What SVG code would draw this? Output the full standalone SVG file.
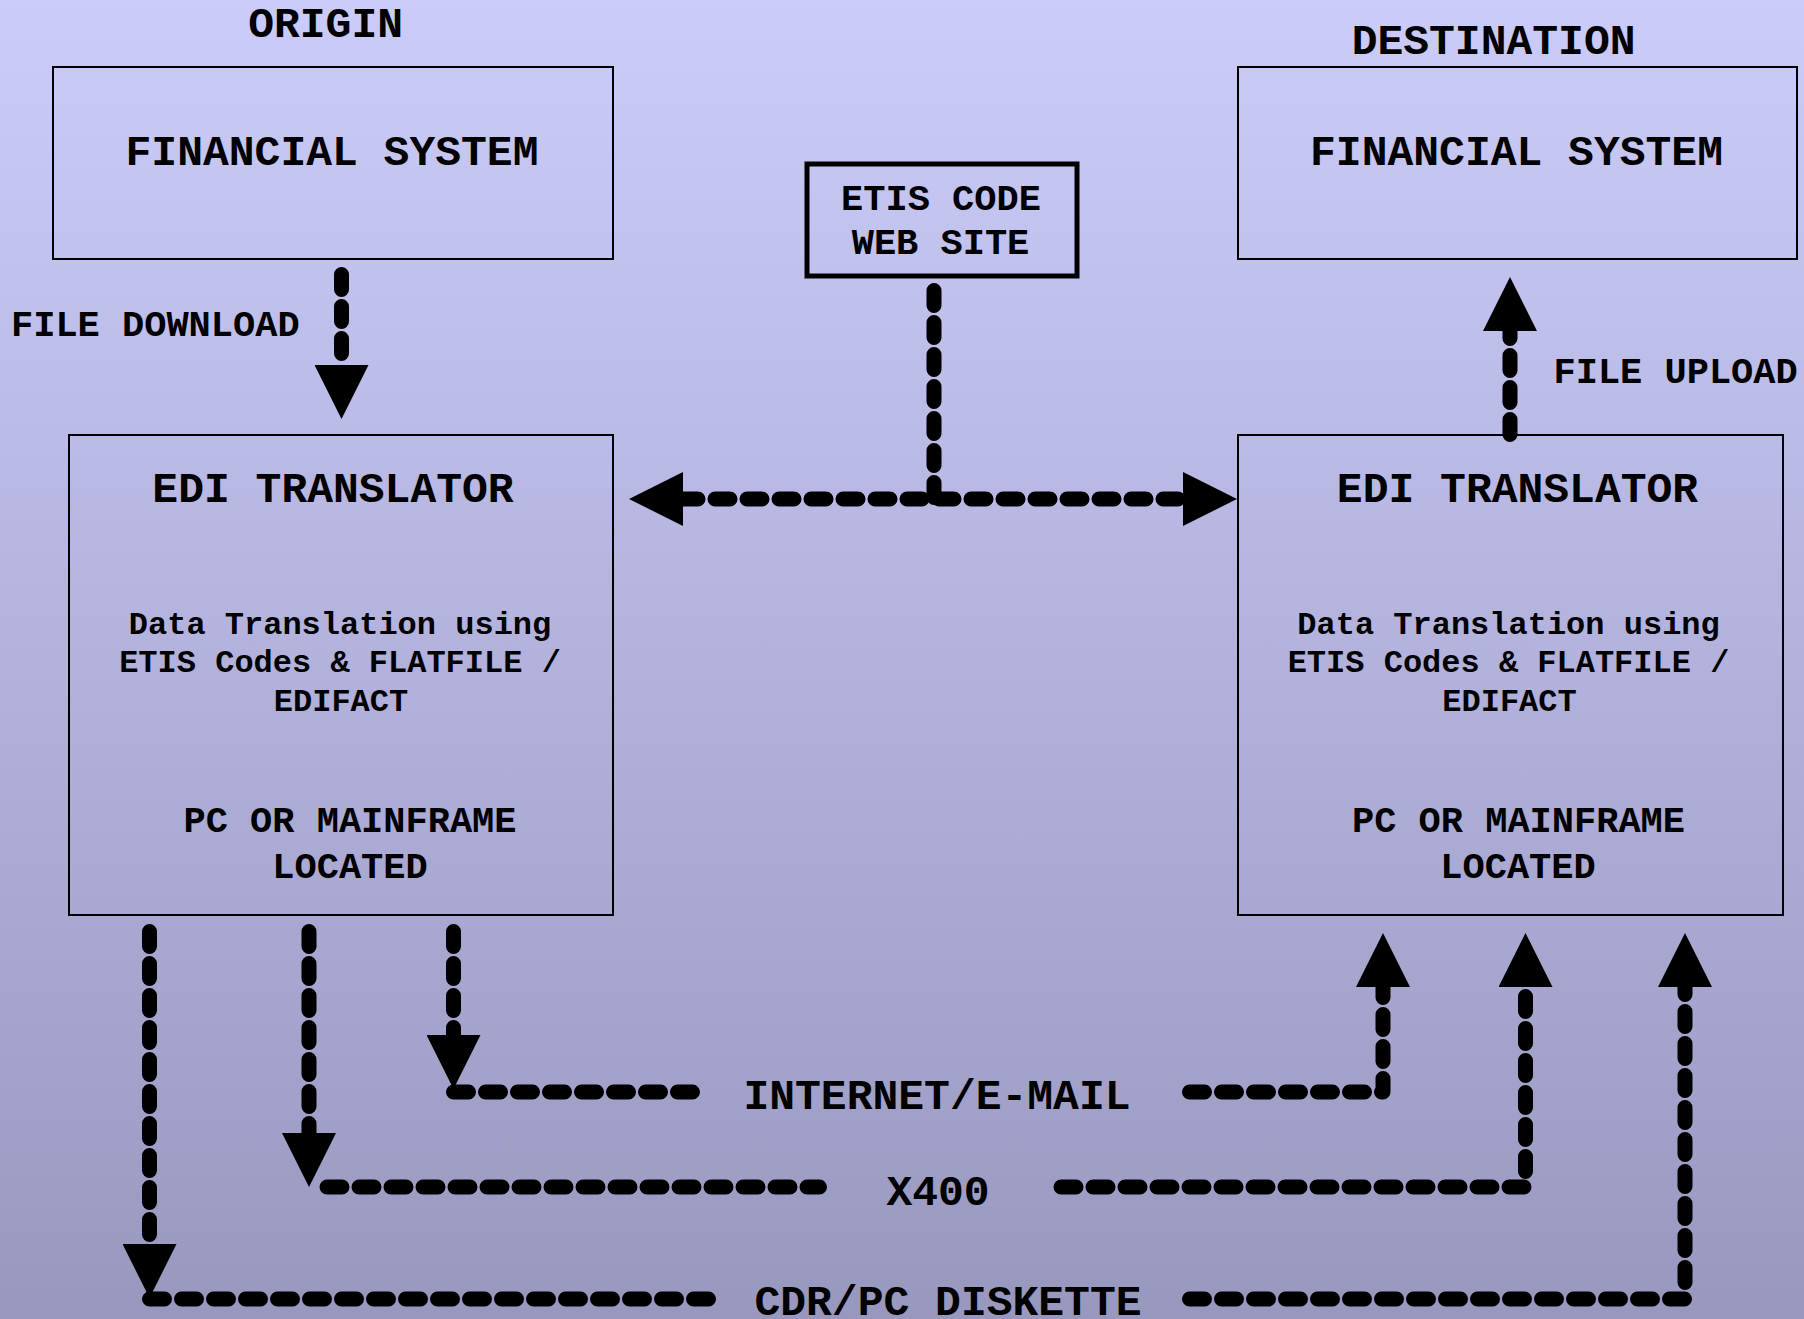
<svg xmlns="http://www.w3.org/2000/svg" width="1804" height="1319" viewBox="0 0 1804 1319">
<defs>
<linearGradient id="bg" x1="0" y1="0" x2="0" y2="1">
<stop offset="0" stop-color="#CCCCFA"/>
<stop offset="1" stop-color="#9898BF"/>
</linearGradient>
<marker id="ah" markerUnits="userSpaceOnUse" markerWidth="54" markerHeight="54" viewBox="0 0 54 54" refX="0" refY="27" orient="auto-start-reverse">
<path d="M0,0 L54,27 L0,54 Z" fill="#000"/>
</marker>
<style>
.t{font-family:"Liberation Mono","Courier New",monospace;font-weight:bold;fill:#000;text-anchor:middle}
.f43{font-size:43px}
.f37{font-size:37px}
.f32{font-size:32px}
.box{fill:none;stroke:#000;stroke-width:2}
.box2{fill:none;stroke:#000;stroke-width:5}
.c{fill:none;stroke:#000;stroke-width:15;stroke-linecap:round;stroke-linejoin:round;stroke-dasharray:15 17}
.a{marker-end:url(#ah)}
.ab{marker-start:url(#ah);marker-end:url(#ah)}
</style>
</defs>
<rect x="0" y="0" width="1804" height="1319" fill="url(#bg)"/>

<text class="t f43" x="325.6" y="36.5">ORIGIN</text>
<text class="t f43" x="1493.6" y="53.5">DESTINATION</text>

<g id="fin-origin">
<rect class="box" x="53" y="67" width="560" height="192"/>
<text class="t f43" x="332" y="164.5">FINANCIAL SYSTEM</text>
</g>
<g id="fin-dest">
<rect class="box" x="1238" y="67" width="559" height="192"/>
<text class="t f43" x="1516.5" y="164.5">FINANCIAL SYSTEM</text>
</g>
<g id="etis">
<rect class="box2" x="807" y="164" width="270" height="112"/>
<text class="t f37" x="941" y="210">ETIS CODE</text>
<text class="t f37" x="940.5" y="254">WEB SITE</text>
</g>
<g id="edi-origin">
<rect class="box" x="69" y="435" width="544" height="480"/>
<text class="t f43" x="333" y="501.5">EDI TRANSLATOR</text>
<text class="t f32" x="340" y="634">Data Translation using</text>
<text class="t f32" x="340" y="672">ETIS Codes &amp; FLATFILE /</text>
<text class="t f32" x="341" y="711">EDIFACT</text>
<text class="t f37" x="350" y="831.5">PC OR MAINFRAME</text>
<text class="t f37" x="350" y="877.5">LOCATED</text>
</g>
<g id="edi-dest">
<rect class="box" x="1238" y="435" width="545" height="480"/>
<text class="t f43" x="1517.5" y="501.5">EDI TRANSLATOR</text>
<text class="t f32" x="1508.5" y="634">Data Translation using</text>
<text class="t f32" x="1508.5" y="672">ETIS Codes &amp; FLATFILE /</text>
<text class="t f32" x="1509.5" y="711">EDIFACT</text>
<text class="t f37" x="1518.5" y="831.5">PC OR MAINFRAME</text>
<text class="t f37" x="1518" y="877.5">LOCATED</text>
</g>

<g id="connectors">
<path class="c a" d="M341.5,274.5 V365"/>
<text class="t f37" x="155.3" y="335.5">FILE DOWNLOAD</text>
<path class="c a" d="M1510,434.5 V331"/>
<text class="t f37" x="1675.6" y="382.5">FILE UPLOAD</text>
<path class="c" d="M934,290.5 V499"/>
<path class="c ab" d="M683,499 H1183"/>

<path class="c a" d="M453.5,931.5 V1035"/>
<path class="c" d="M453.5,1092 H708.5"/>
<path class="c a" d="M1189.5,1092 H1383 V987"/>
<text class="t f43" x="937" y="1109">INTERNET/E-MAIL</text>

<path class="c a" d="M309,931.5 V1133"/>
<path class="c" d="M327,1187 H819.5"/>
<path class="c a" d="M1061,1187 H1525.5 V987"/>
<text class="t f43" x="938" y="1204.5">X400</text>

<path class="c a" d="M149.5,931.5 V1244"/>
<path class="c" d="M149.5,1299 H708.5"/>
<path class="c a" d="M1189.5,1299 H1685 V987"/>
<text class="t f43" x="948" y="1315">CDR/PC DISKETTE</text>
</g>
</svg>
